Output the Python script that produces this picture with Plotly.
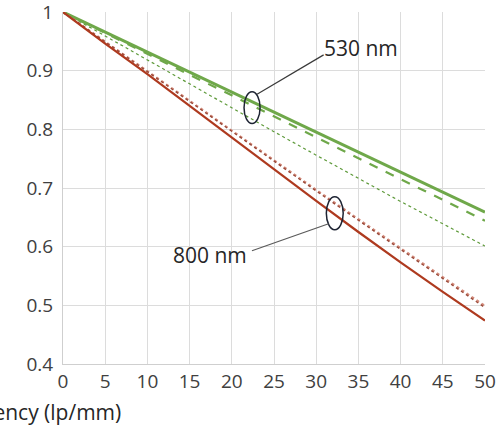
import plotly.graph_objects as go

freq = [0, 5, 10, 15, 20, 25, 30, 35, 40, 45, 50]

green_solid = [1, 0.966, 0.932, 0.898, 0.864, 0.830, 0.796, 0.762, 0.728, 0.694, 0.659]
green_dash = [1, 0.964, 0.929, 0.893, 0.858, 0.822, 0.786, 0.751, 0.715, 0.680, 0.644]
green_dot = [1, 0.959, 0.918, 0.877, 0.836, 0.796, 0.756, 0.716, 0.677, 0.639, 0.601]
red_solid = [1, 0.946, 0.894, 0.840, 0.785, 0.731, 0.678, 0.625, 0.573, 0.523, 0.474]
red_dash = [1, 0.949, 0.898, 0.847, 0.796, 0.745, 0.695, 0.645, 0.595, 0.545, 0.496]
red_dot = [1, 0.950, 0.900, 0.849, 0.798, 0.747, 0.697, 0.647, 0.597, 0.548, 0.499]

x_ticks = [0, 5, 10, 15, 20, 25, 30, 35, 40, 45, 50]
y_ticks = [0.4, 0.5, 0.6, 0.7, 0.8, 0.9, 1]
y_tick_text = ["0.4", "0.5", "0.6", "0.7", "0.8", "0.9", "1"]

GREEN = "#6fa84a"
RED = "#ae3a1f"
FONT = "Open Sans"

fig = go.Figure()
fig.add_trace(go.Scatter(x=freq, y=green_dot, mode="lines",
                         line=dict(color="#5e9a3a", width=1.2, dash="dot")))
fig.add_trace(go.Scatter(x=freq, y=green_dash, mode="lines",
                         line=dict(color=GREEN, width=2.2, dash="dash")))
fig.add_trace(go.Scatter(x=freq, y=green_solid, mode="lines",
                         line=dict(color=GREEN, width=3)))
fig.add_trace(go.Scatter(x=freq, y=red_dot, mode="lines",
                         line=dict(color="#d38a7a", width=2, dash="dot")))
fig.add_trace(go.Scatter(x=freq, y=red_dash, mode="lines",
                         line=dict(color="#9a4a3a", width=1.4, dash="dot")))
fig.add_trace(go.Scatter(x=freq, y=red_solid, mode="lines",
                         line=dict(color=RED, width=2.2)))

# ellipses
fig.add_shape(type="circle", xref="x", yref="y", x0=21.45, x1=23.35, y0=0.810, y1=0.864,
              line=dict(color="#1e2433", width=1.5))
fig.add_shape(type="circle", xref="x", yref="y", x0=31.2, x1=33.2, y0=0.629, y1=0.685,
              line=dict(color="#1e2433", width=1.5))
# leader lines
fig.add_shape(type="line", xref="x", yref="y", x0=22.99, y0=0.860, x1=30.88, y1=0.927,
              line=dict(color="#3a3a3a", width=1.2))
fig.add_shape(type="line", xref="x", yref="y", x0=31.47, y0=0.639, x1=22.39, y1=0.593,
              line=dict(color="#5a5a5a", width=1.2))

fig.add_annotation(x=30.7, y=0.938, xref="x", yref="y", text="530 nm", showarrow=False,
                   xanchor="left", yanchor="middle", font=dict(family=FONT, size=21, color="#262626"))
fig.add_annotation(x=22.05, y=0.586, xref="x", yref="y", text="800 nm", showarrow=False,
                   xanchor="right", yanchor="middle", font=dict(family=FONT, size=21, color="#262626"))
fig.add_annotation(x=0.142, y=-0.136, xref="paper", yref="paper", text="Spatial frequency (lp/mm)",
                   showarrow=False, xanchor="right", yanchor="middle",
                   font=dict(family=FONT, size=21, color="#262626"))

fig.update_layout(
    width=498, height=427,
    margin=dict(l=63, r=13, t=12, b=63),
    paper_bgcolor="white", plot_bgcolor="white",
    showlegend=False,
    font=dict(family=FONT, size=19, color="#404040"),
)
fig.update_xaxes(range=[0, 50.0001], tickvals=x_ticks, showgrid=True, gridcolor="#dcdcdc", gridwidth=1,
                 showline=True, linecolor="#cfcfcf", linewidth=1, zeroline=False,
                 ticks="", ticklabeloverflow="allow", automargin=False,
                 tickfont=dict(family=FONT, size=19, color="#404040"))
fig.update_yaxes(range=[0.3999, 1.0001], tickvals=y_ticks, ticktext=y_tick_text, showgrid=True,
                 gridcolor="#dcdcdc", gridwidth=1, showline=True, linecolor="#cfcfcf", linewidth=1,
                 zeroline=False, ticks="outside", ticklen=5, tickcolor="rgba(0,0,0,0)",
                 ticklabeloverflow="allow", automargin=False,
                 tickfont=dict(family=FONT, size=19, color="#404040"))

fig.write_html("out.html", config={"displayModeBar": False},
               post_script="document.body.style.margin='0px';")
